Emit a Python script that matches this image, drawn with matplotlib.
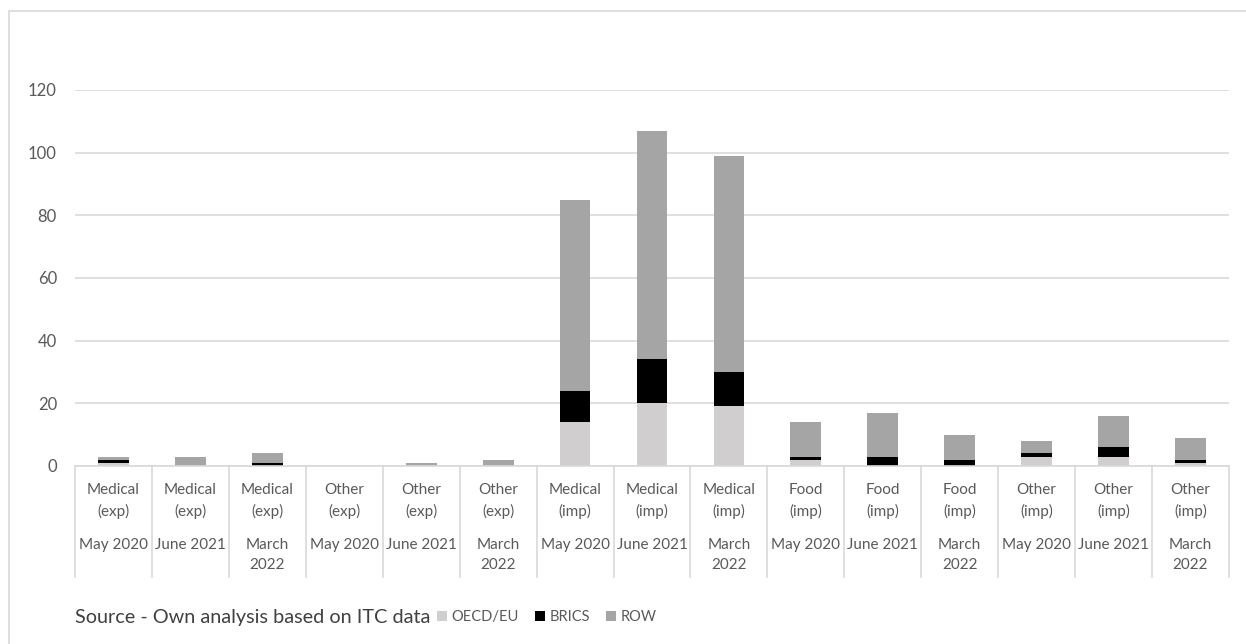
import matplotlib.pyplot as plt
from matplotlib.patches import Rectangle
import numpy as np

plt.rcParams['font.family'] = ['Lato', 'DejaVu Sans']

# Product group / direction for each column, and the survey date below it
groups = ['Medical\n(exp)', 'Medical\n(exp)', 'Medical\n(exp)',
          'Other\n(exp)', 'Other\n(exp)', 'Other\n(exp)',
          'Medical\n(imp)', 'Medical\n(imp)', 'Medical\n(imp)',
          'Food\n(imp)', 'Food\n(imp)', 'Food\n(imp)',
          'Other\n(imp)', 'Other\n(imp)', 'Other\n(imp)']
dates = ['May 2020', 'June 2021', 'March\n2022'] * 5

# Number of measures by affected partner group
oecd = [1, 0, 0, 0, 0, 0, 14, 20, 19, 2, 0, 0, 3, 3, 1]
brics = [1, 0, 1, 0, 0, 0, 10, 14, 11, 1, 3, 2, 1, 3, 1]
row = [1, 3, 3, 0, 1, 2, 61, 73, 69, 11, 14, 8, 4, 10, 7]

series_names = ['OECD/EU', 'BRICS', 'ROW']
colors = ['#D0CECE', '#000000', '#A5A5A5']
text_col = '#595959'
grid_col = '#D9D9D9'

W, H = 1246, 644
fig = plt.figure(figsize=(W / 100, H / 100), dpi=100)
ax = fig.add_axes([75 / W, (H - 466) / H, 1154 / W, (466 - 90) / H])

# outer chart frame
fig.patches.append(Rectangle((9 / W, -0.1), 1.2, (H - 11) / H + 0.1,
                             transform=fig.transFigure, fill=False,
                             edgecolor=grid_col, linewidth=1.2))

x = np.arange(len(groups))
o = np.array(oecd)
b = np.array(brics)
r = np.array(row)
bars = []
bars.append(ax.bar(x, o, 0.4, color=colors[0], zorder=3, clip_on=False))
bars.append(ax.bar(x, b, 0.4, bottom=o, color=colors[1], zorder=3, clip_on=False))
bars.append(ax.bar(x, r, 0.4, bottom=o + b, color=colors[2], zorder=3, clip_on=False))

ax.set_xlim(-0.5, len(groups) - 0.5)
ax.set_ylim(0, 120)
ax.set_yticks(range(0, 121, 20))
ax.tick_params(axis='y', length=0, labelsize=12, labelcolor=text_col, pad=13)
ax.set_xticks([])
ax.grid(axis='y', color=grid_col, linewidth=1.2, zorder=0)
for s in ['top', 'left', 'right']:
    ax.spines[s].set_visible(False)
ax.spines['bottom'].set_color(grid_col)
ax.spines['bottom'].set_linewidth(1.2)
ax.spines['bottom'].set_zorder(4)

# category table under the axis
tr = ax.get_xaxis_transform()
ph = 466 - 90
sep_bottom = -(577 - 466) / ph
for i in range(len(groups) + 1):
    ax.plot([i - 0.5, i - 0.5], [0, sep_bottom], color=grid_col, lw=1.2,
            transform=tr, clip_on=False)
for i in range(len(groups)):
    ax.text(i, -(483 - 466) / ph, groups[i], transform=tr, ha='center', va='top',
            fontsize=11, color=text_col, linespacing=1.55)
    ax.text(i, -(538 - 466) / ph, dates[i], transform=tr, ha='center', va='top',
            fontsize=11, color=text_col, linespacing=1.55)

fig.text(75 / W, 1 - 617 / H, 'Source - Own analysis based on ITC data',
         fontsize=14.3, color='#404040', va='center')

fig.legend([bb[0] for bb in bars], series_names, loc='center left',
           bbox_to_anchor=(437 / W, 1 - 617 / H), ncol=3, frameon=False,
           borderpad=0, borderaxespad=0,
           handlelength=0.7, handleheight=0.7, handletextpad=0.3,
           columnspacing=1.1, fontsize=10.5, labelcolor=text_col)

fig.savefig('out.png', dpi=100)
